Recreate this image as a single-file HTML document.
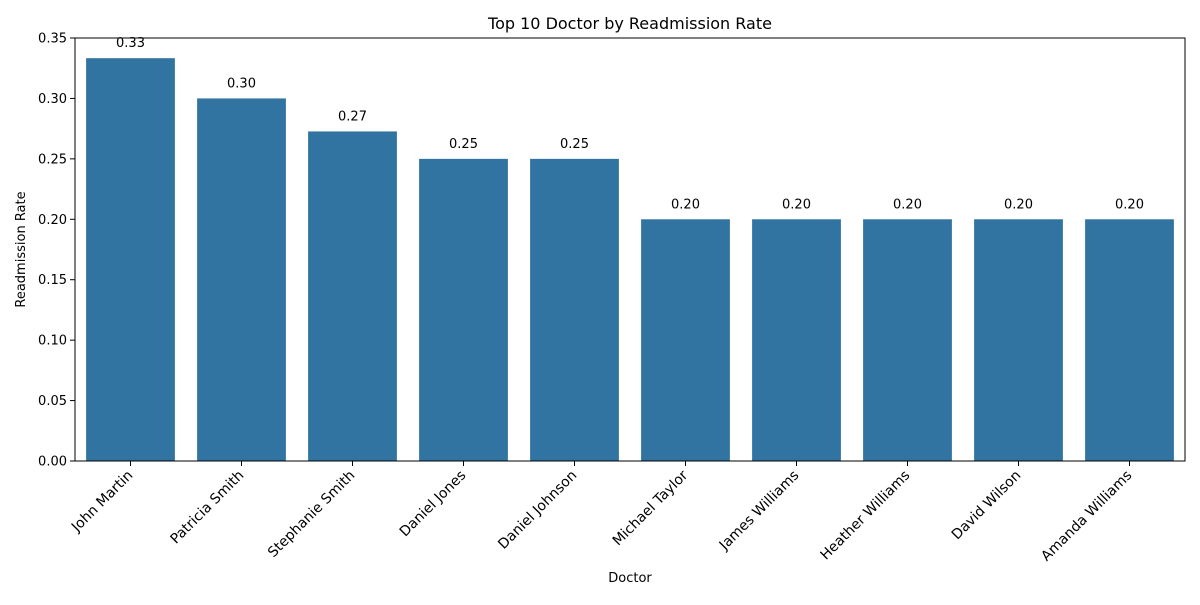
<!DOCTYPE html>
<html><head><meta charset="utf-8"><style>
body{margin:0;background:#fff;font-family:"Liberation Sans","DejaVu Sans",sans-serif}
</style></head><body>
<svg id="chart" width="1200" height="600" xmlns="http://www.w3.org/2000/svg" font-family="'DejaVu Sans','Liberation Sans',sans-serif">
<rect width="1200" height="600" fill="#fff"/>
<text x="630" y="29" text-anchor="middle" font-size="16">Top 10 Doctor by Readmission Rate</text>
<text x="630" y="582" text-anchor="middle" font-size="13">Doctor</text>
<text transform="translate(25,249.5) rotate(-90)" text-anchor="middle" font-size="13">Readmission Rate</text>
<g id="plot"></g>
</svg>
<script>
const categories=["John Martin","Patricia Smith","Stephanie Smith","Daniel Jones","Daniel Johnson","Michael Taylor","James Williams","Heather Williams","David Wilson","Amanda Williams"];
const values=[0.3333,0.30,0.2727,0.25,0.25,0.20,0.20,0.20,0.20,0.20];
const valueLabels=["0.33","0.30","0.27","0.25","0.25","0.20","0.20","0.20","0.20","0.20"];
const yTicks=[0,0.05,0.10,0.15,0.20,0.25,0.30,0.35];
const yTickLabels=["0.00","0.05","0.10","0.15","0.20","0.25","0.30","0.35"];
const L=75,R=1185,T=38,B=461,yMax=0.35;
const NS="http://www.w3.org/2000/svg";
const g=document.getElementById('plot');
const slot=(R-L)/categories.length;
const xC=i=>L+slot*(i+0.5);
const y=v=>B-(v/yMax)*(B-T);
function el(t,a){const e=document.createElementNS(NS,t);for(const k in a)e.setAttribute(k,a[k]);g.appendChild(e);return e;}
values.forEach((v,i)=>{
 const r=el('rect',{x:xC(i)-slot*0.4,y:y(v),width:slot*0.8,height:B-y(v),fill:'#3274a1'});
 
 
 const t=el('text',{x:xC(i),y:y(v)-11,'text-anchor':'middle','font-size':'13'});
 t.textContent=valueLabels[i];
 
 
 const tk=el('line',{x1:xC(i),x2:xC(i),y1:B,y2:B+5,stroke:'#000'});
 
 
 const lb=el('text',{transform:`translate(${xC(i)+3},${B+15}) rotate(-45)`,'text-anchor':'end','font-size':'14'});
 lb.textContent=categories[i];
 
 
});
yTicks.forEach((v,i)=>{
 const tk=el('line',{x1:L-5,x2:L,y1:y(v),y2:y(v),stroke:'#000'});
 
 
 const t=el('text',{x:L-8,y:y(v)+4.5,'text-anchor':'end','font-size':'13'});
 t.textContent=yTickLabels[i];
 
 
});
const fr=el('rect',{x:L,y:T,width:R-L,height:B-T,fill:'none',stroke:'#000','stroke-width':1});


</script>
</body></html>
